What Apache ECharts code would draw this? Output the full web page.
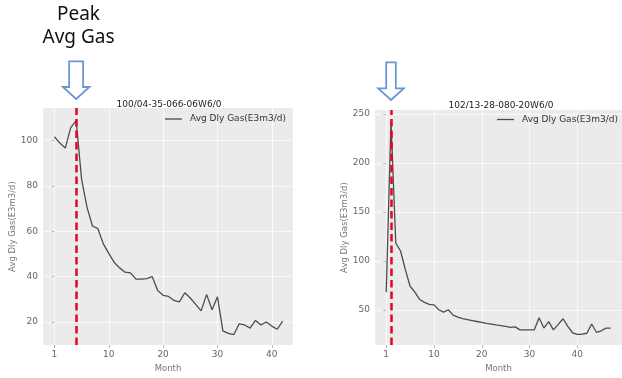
<!DOCTYPE html>
<html>
<head>
<meta charset="utf-8">
<script src="https://cdn.jsdelivr.net/npm/echarts@6/dist/echarts.min.js"></script>
<style>
  html, body { margin: 0; padding: 0; background: #ffffff; }
  #chart { width: 622px; height: 378px; }
</style>
</head>
<body>
<div id="chart"></div>
<script>
// Well identifiers shown as panel titles
const wellA = '100/04-35-066-06W6/0';
const wellB = '102/13-28-080-20W6/0';
const seriesName = 'Avg Dly Gas(E3m3/d)';
const peakNote = 'Peak\nAvg Gas';

// Monthly average daily gas, one value per producing month (first month at index 0)
const gasA = [101.7, 98.9, 96.7, 105.7, 108.8, 83, 70.5, 62.3, 61.1, 54.4,
              50.2, 46.2, 43.8, 41.9, 41.6, 38.8, 38.8, 39.1, 39.9, 33.8,
              31.7, 31.2, 29.4, 28.8, 32.8, 30.5, 27.7, 24.8, 32.1, 25.3,
              31.0, 16.0, 14.9, 14.3, 19.1, 18.6, 17.2, 20.6, 18.6, 19.9,
              18.1, 16.7, 20.3];
const gasB = [68, 242, 118, 110, 91, 74, 68, 60.5, 57.5, 55.5,
              55, 50, 47.5, 50, 44.5, 42.5, 41, 40, 39, 38,
              37, 36, 35.3, 34.5, 33.8, 33, 32, 32.5, 29.5, 29.5,
              29.5, 29.5, 41.8, 31.3, 37.8, 29.5, 35, 40.8, 33, 26.5,
              24.8, 25, 26, 35.5, 27, 28.5, 31.3, 31.3];

// Axis ticks and their labels
const monthTicks = [0, 10, 20, 30, 40];
const monthTickLabels = ['1', '10', '20', '30', '40'];
const gasTicksA = [20, 40, 60, 80, 100];
const gasTicksB = [50, 100, 150, 200, 250];

const FONT = 'DejaVu Sans';
const toPairs = arr => arr.map((v, i) => [i, v]);
const peakIndex = arr => arr.indexOf(Math.max(...arr));
const peakA = peakIndex(gasA);
const peakB = peakIndex(gasB);

function xAxisFor(gridIndex, min, max) {
  return {
    type: 'value', gridIndex, min, max,
    name: 'Month', nameLocation: 'middle', nameGap: 15,
    nameTextStyle: { color: '#777', fontFamily: FONT, fontSize: 8.5 },
    axisLine: { show: false },
    axisTick: { show: true, length: 3, customValues: monthTicks, lineStyle: { color: '#bbb' } },
    axisLabel: {
      customValues: monthTicks, margin: 5, color: '#666', fontFamily: FONT, fontSize: 9,
      formatter: v => monthTickLabels[monthTicks.indexOf(v)]
    },
    splitLine: { show: true, lineStyle: { color: '#fafafa', width: 1 } }
  };
}
function yAxisFor(gridIndex, min, max, ticks) {
  return {
    type: 'value', gridIndex, min, max,
    name: seriesName, nameLocation: 'middle', nameGap: 18,
    nameTextStyle: { color: '#777', fontFamily: FONT, fontSize: 8.5 },
    axisLine: { show: false },
    axisTick: { show: true, length: 3, customValues: ticks, lineStyle: { color: '#bbb' } },
    axisLabel: { customValues: ticks, margin: 5, color: '#666', fontFamily: FONT, fontSize: 9 },
    splitLine: { show: true, lineStyle: { color: '#fafafa', width: 1 } }
  };
}
function seriesFor(idx, data, peak) {
  return {
    type: 'line', name: seriesName, xAxisIndex: idx, yAxisIndex: idx,
    data: toPairs(data), symbol: 'none', smooth: false,
    lineStyle: { color: '#4d4d4d', width: 1.3 },
    itemStyle: { color: '#4d4d4d' },
    markLine: {
      silent: true, symbol: 'none', animation: false,
      label: { show: false },
      lineStyle: { color: '#e4061e', width: 2.5, type: [7.5, 4] },
      data: [{ xAxis: peak }]
    }
  };
}
function legendAt(left, top) {
  return {
    data: [seriesName], left, top, padding: 0, icon: 'rect', itemWidth: 17, itemHeight: 1.3,
    itemStyle: { color: '#4d4d4d' },
    textStyle: { fontFamily: FONT, fontSize: 9, color: '#333', padding: [0, 0, 0, 3] }
  };
}

const chart = echarts.init(document.getElementById('chart'), null, { renderer: 'canvas' });
chart.setOption({
  animation: false,
  backgroundColor: '#ffffff',
  title: [
    { text: wellA, left: 164, top: 95, textAlign: 'center',
      textStyle: { fontFamily: FONT, fontSize: 9, fontWeight: 'normal', color: '#222' } },
    { text: wellB, left: 496, top: 96, textAlign: 'center',
      textStyle: { fontFamily: FONT, fontSize: 9, fontWeight: 'normal', color: '#222' } }
  ],
  legend: [legendAt(165, 114.5), legendAt(497, 115)],
  grid: [
    { left: 43, top: 108, width: 250, height: 245, show: true, backgroundColor: '#ebebeb', borderWidth: 0 },
    { left: 375, top: 110, width: 251, height: 243.3, show: true, backgroundColor: '#ebebeb', borderWidth: 0 }
  ],
  xAxis: [xAxisFor(0, -2.1, 43.9), xAxisFor(1, -2.35, 49.35)],
  yAxis: [yAxisFor(0, 9.7, 114.4, gasTicksA), yAxisFor(1, 13.9, 254, gasTicksB)],
  series: [seriesFor(0, gasA, peakA), seriesFor(1, gasB, peakB)]
});

// Down arrows pointing at the peak month of each well
function arrowPoints(tipX, tipY, shaftHalf, headHalf, headH, totalH) {
  const top = tipY - totalH, neck = tipY - headH;
  return [
    [tipX - shaftHalf, top], [tipX + shaftHalf, top], [tipX + shaftHalf, neck],
    [tipX + headHalf, neck], [tipX, tipY], [tipX - headHalf, neck], [tipX - shaftHalf, neck]
  ];
}
const tipA = chart.convertToPixel({ xAxisIndex: 0, yAxisIndex: 0 }, [peakA, 0]);
const tipB = chart.convertToPixel({ xAxisIndex: 1, yAxisIndex: 1 }, [peakB, 0]);
const arrowStyle = { fill: '#ffffff', stroke: '#6b96d2', lineWidth: 1.8 };
chart.setOption({
  graphic: [
    { type: 'polygon', shape: { points: arrowPoints(tipA[0], 99, 7, 13.3, 12, 37.6) }, style: arrowStyle },
    { type: 'polygon', shape: { points: arrowPoints(tipB[0], 100, 4.8, 12.8, 11.7, 37.7) }, style: arrowStyle },
    { type: 'text', x: 78.5, y: 3,
      style: { text: peakNote, fill: '#111', font: '19px "Noto Sans"', align: 'center', lineHeight: 23 } }
  ]
});
</script>
</body>
</html>
